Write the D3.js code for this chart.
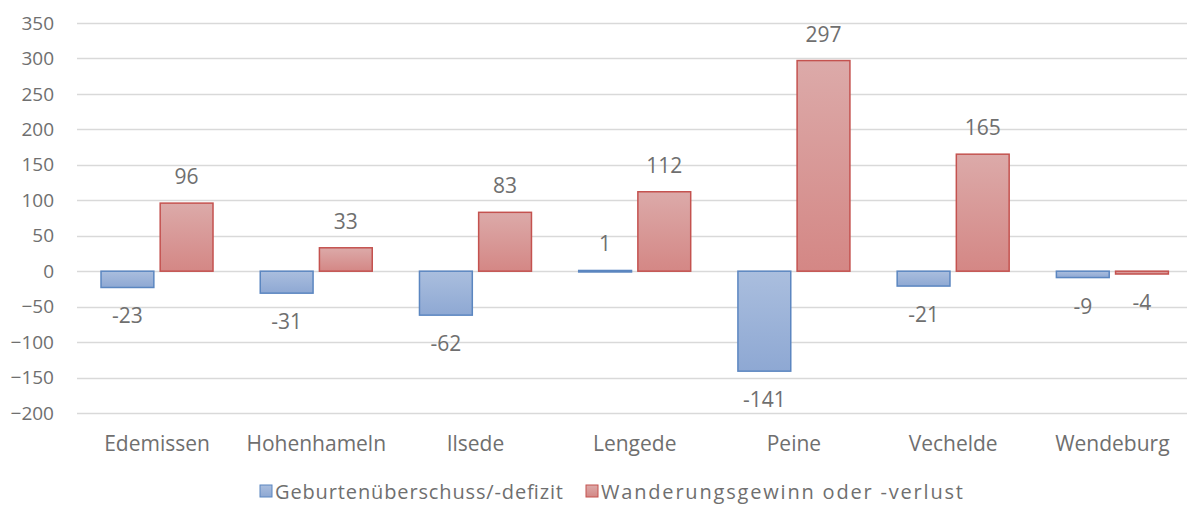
<!DOCTYPE html>
<html><head><meta charset="utf-8">
<script src="https://cdn.jsdelivr.net/npm/d3@7"></script>
<style>body{margin:0;background:#fff;}svg{display:block;font-family:"Open Sans","Liberation Sans",sans-serif;}</style>
</head><body>
<svg id="c" width="1187" height="511"></svg>
<script>
const categories = ["Edemissen","Hohenhameln","Ilsede","Lengede","Peine","Vechelde","Wendeburg"];
const seriesNames = ["Geburtenüberschuss/-defizit","Wanderungsgewinn oder -verlust"];
const birthValues = [-23,-31,-62,1,-141,-21,-9];
const migrationValues = [96,33,83,112,297,165,-4];
const yTicks = [350,300,250,200,150,100,50,0,-50,-100,-150,-200];

const svg = d3.select("#c");
const W = 1187, H = 511;
const x = d3.scaleBand().domain(categories).range([77.4, 1192]).padding(0);
const y = d3.scaleLinear().domain([-200,350]).range([413, 23]);
const txt = "#6f6f6f";

const defs = svg.append("defs");
function grad(id, c1, c2){
  const g = defs.append("linearGradient").attr("id",id).attr("x1",0).attr("y1",0).attr("x2",0).attr("y2",1);
  g.append("stop").attr("offset","0%").attr("stop-color",c1);
  g.append("stop").attr("offset","100%").attr("stop-color",c2);
}
grad("gb","#aabede","#8ea8d3");
grad("gr","#dcaaa9","#d48785");
const fills = ["url(#gb)","url(#gr)"];
const strokes = ["#5b86c0","#c4524f"];

// gridlines
svg.append("g").selectAll("line").data(yTicks).join("line")
  .attr("x1", 77).attr("x2", W).attr("y1", d=>Math.round(y(d))+0.5).attr("y2", d=>Math.round(y(d))+0.5)
  .attr("stroke","#d9d9d9").attr("stroke-width",1.3);

// y axis labels
const yAxis = d3.axisLeft(y).tickValues(yTicks).tickSize(0).tickPadding(0);
const ya = svg.append("g").attr("transform","translate(54,0)").call(yAxis);
ya.select(".domain").remove();
ya.selectAll("text").attr("fill",txt).style("font-size","19px").style("font-family","'Open Sans','Liberation Sans',sans-serif");

// bars
const barW = 50, gap = 12;
const sub = d3.scaleBand().domain([0,1]).range([0, barW*2+gap]).paddingInner(gap/(barW*2+gap));
const series = [birthValues, migrationValues];
series.forEach((vals, si) => {
  const g = svg.append("g");
  const off = (x.bandwidth() - (barW*2+gap))/2;
  g.selectAll("rect").data(vals).join("rect")
    .attr("x", (d,i)=> x(categories[i]) + off + sub(si))
    .attr("width", sub.bandwidth())
    .attr("y", d=> y(Math.max(0,d)))
    .attr("height", d=> Math.max(1.5, Math.abs(y(d)-y(0))))
    .attr("fill", fills[si]).attr("stroke", strokes[si]).attr("stroke-width",1.5);
  g.selectAll("text").data(vals).join("text")
    .attr("x", (d,i)=> x(categories[i]) + off + sub(si) + sub.bandwidth()/2)
    .attr("y", d=> d>=0 ? y(d) - 19 : y(d) + 36)
    .attr("text-anchor","middle").attr("fill",txt).style("font-size","21px")
    .text(d=>d);
});

// category labels
svg.append("g").selectAll("text").data(categories).join("text")
  .attr("x", d=> x(d)+x.bandwidth()/2).attr("y", 451)
  .attr("text-anchor","middle").attr("fill",txt).style("font-size","21px").text(d=>d);

// legend
const legX = [260, 586];
const legLen = [288, 362];
const lg = svg.append("g");
seriesNames.forEach((n,i)=>{
  lg.append("rect").attr("x",legX[i]).attr("y",485).attr("width",12).attr("height",12)
    .attr("fill",fills[i]).attr("stroke",strokes[i]).attr("stroke-width",1);
  lg.append("text").attr("x",legX[i]+15).attr("y",499).attr("fill",txt)
    .style("font-size","20px").attr("textLength",legLen[i]).attr("lengthAdjust","spacing").text(n);
});
</script>
</body></html>
